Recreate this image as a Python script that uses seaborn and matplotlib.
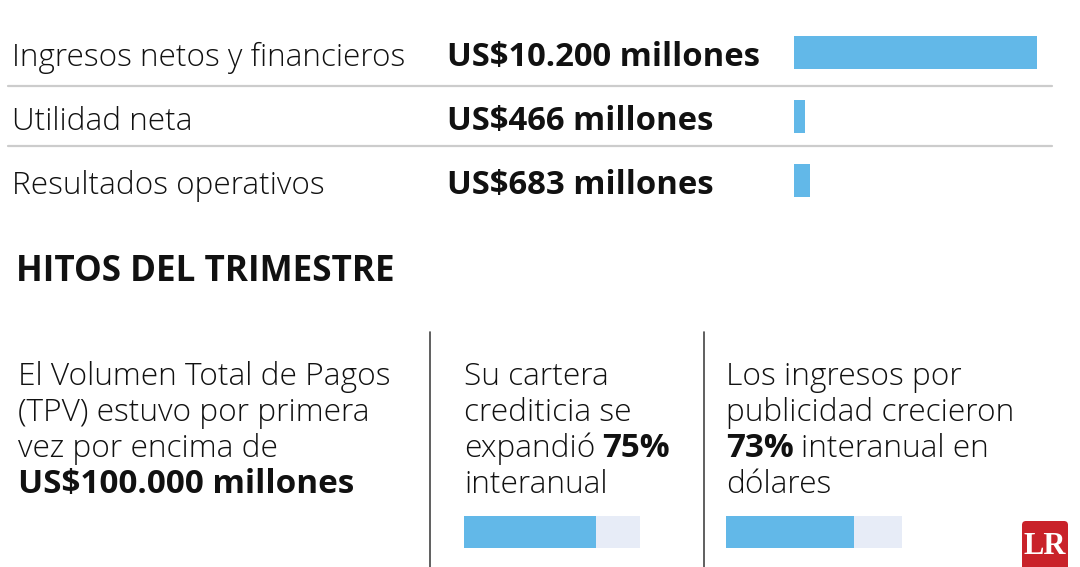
import matplotlib
matplotlib.use('Agg')
import matplotlib.pyplot as plt
import seaborn as sns
from matplotlib.patches import FancyBboxPatch

sns.set_theme(style='white')
plt.rcParams['font.family'] = ['Open Sans', 'DejaVu Sans']

# --- Datos ---
metricas = ['Ingresos netos y financieros', 'Utilidad neta', 'Resultados operativos']
valores = [10200, 466, 683]  # millones de US$
etiquetas = ['US$10.200 millones', 'US$466 millones', 'US$683 millones']

titulo_hitos = 'HITOS DEL TRIMESTRE'
# cada linea: lista de (texto, negrita)
hito_tpv = [
    [('El Volumen Total de Pagos', False)],
    [('(TPV) estuvo por primera', False)],
    [('vez por encima de', False)],
    [('US$100.000 millones', True)],
]
hito_cartera = [
    [('Su cartera', False)],
    [('crediticia se', False)],
    [('expandió', False), ('75%', True)],
    [('interanual', False)],
]
hito_publicidad = [
    [('Los ingresos por', False)],
    [('publicidad crecieron', False)],
    [('73%', True), ('interanual en', False)],
    [('dólares', False)],
]
crecimientos = [75, 73]  # % interanual

AZUL = '#62b8e8'
PISTA = '#e7ecf7'
W, H = 1080, 567

fig = plt.figure(figsize=(W / 100, H / 100), dpi=100)
fondo = fig.add_axes([0, 0, 1, 1])
fondo.set_xlim(0, W)
fondo.set_ylim(H, 0)
fondo.axis('off')
renderer = fig.canvas.get_renderer()


def caja(x0, y0, x1, y1):
    # rectangulo en pixeles -> fraccion de figura
    return [x0 / W, 1 - y1 / H, (x1 - x0) / W, (y1 - y0) / H]


def ancho(texto, size, peso):
    t = fondo.text(0, 0, texto, fontsize=size, fontweight=peso)
    w = t.get_window_extent(renderer).width
    t.remove()
    return w


# tamaños ajustados al ancho que ocupan en la referencia
t_label = 20 * 393 / ancho(metricas[0], 20, 'light')
t_valor = 20 * 314 / ancho(etiquetas[0], 20, 'bold')
t_titulo = 20 * 378 / ancho(titulo_hitos, 20, 'bold')
t_cuerpo = 20 * 372 / ancho(hito_tpv[0][0][0], 20, 'light')
t_cuerpo_b = 20 * 336 / ancho(hito_tpv[3][0][0], 20, 'bold')


def linea(x, y, partes):
    for i, (texto, negrita) in enumerate(partes):
        if i > 0:
            x += t_cuerpo * 0.30
        size = t_cuerpo_b if negrita else t_cuerpo
        t = fondo.text(x, y, texto, fontsize=size, va='baseline', color='#111111',
                       fontweight='bold' if negrita else 'light')
        x += t.get_window_extent(renderer).width


# --- Parte superior: metricas ---
bases = [66, 130, 194]
for nombre, etiqueta, yb in zip(metricas, etiquetas, bases):
    fondo.text(12, yb, nombre, fontsize=t_label, fontweight='light', va='baseline', color='#111111')
    fondo.text(447, yb, etiqueta, fontsize=t_valor, fontweight='bold', va='baseline', color='#111111')
for ys in [86, 146]:
    fondo.plot([8, 1052], [ys, ys], color='#cccccc', lw=1.6)

ax_barras = fig.add_axes(caja(794, 20.5, 1037, 212.5))
sns.barplot(x=valores, y=metricas, orient='h', color=AZUL, saturation=1, width=0.52,
            linewidth=0, edgecolor='none', ax=ax_barras)
ax_barras.set_xlim(0, max(valores))
ax_barras.set_ylim(2.5, -0.5)
ax_barras.axis('off')

# --- Hitos del trimestre ---
fondo.text(16, 281, titulo_hitos, fontsize=t_titulo, fontweight='bold', va='baseline', color='#111111')
for xv in [430, 704]:
    fondo.plot([xv, xv], [332, H], color='#444444', lw=1.2)

bases_hitos = [385, 421, 457, 493]
for x0, hito in zip([18, 464, 726], [hito_tpv, hito_cartera, hito_publicidad]):
    for partes, yb in zip(hito, bases_hitos):
        linea(x0, yb, partes)

for x0, pct in zip([464, 726], crecimientos):
    ax_h = fig.add_axes(caja(x0, 516, x0 + 176, 548))
    sns.barplot(x=[100], y=['total'], orient='h', color=PISTA, saturation=1, width=1,
                linewidth=0, edgecolor='none', ax=ax_h)
    sns.barplot(x=[pct], y=['total'], orient='h', color=AZUL, saturation=1, width=1,
                linewidth=0, edgecolor='none', ax=ax_h)
    ax_h.set_xlim(0, 100)
    ax_h.set_ylim(0.5, -0.5)
    ax_h.axis('off')

# --- Logo LR ---
fondo.add_patch(FancyBboxPatch((1022, 521), 46, 50, boxstyle='round,pad=0,rounding_size=4',
                               facecolor='#c9222a', edgecolor='none'))
fondo.text(1045, 546, 'LR', fontsize=22, fontweight='bold', color='white', ha='center', va='center',
           family=['Liberation Serif', 'DejaVu Serif'])

fig.savefig('out.png', dpi=100, facecolor='white')
